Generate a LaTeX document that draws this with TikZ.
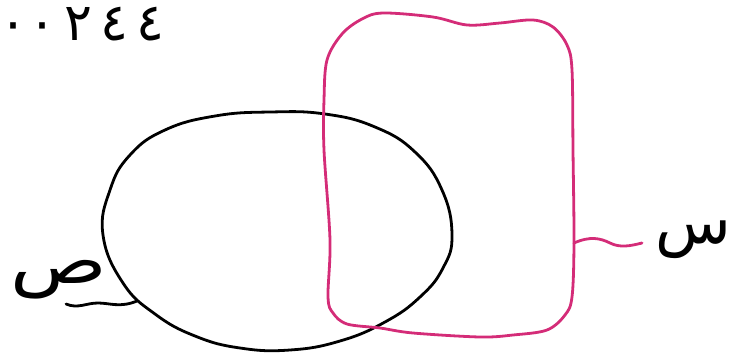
\documentclass[tikz,border=0pt]{standalone}
\usepackage{fontspec}
\usepackage{graphicx}
\newfontfamily\arabicfont[Script=Arabic]{DejaVu Sans}
\TeXXeTstate=1
\definecolor{setpink}{RGB}{212,44,120}
\newcommand\digitbox[2][36pt]{\makebox[#1]{#2}}
\begin{document}
\begin{tikzpicture}[x=1pt,y=-1pt,
  setline/.style={line width=2.8pt,line cap=round,line join=round},
  setlabel/.style={inner sep=0pt,font=\arabicfont\fontsize{62}{62}\selectfont}]
  \useasboundingbox (0,0) rectangle (731,354);
  \node[anchor=base west,inner sep=0pt,text height=30pt,text depth=0pt,
    font=\arabicfont\fontsize{52}{52}\selectfont] (number) at (2,40)
    {\digitbox[22pt]{٠}\digitbox{٠}\digitbox{٢}\digitbox{٤}\digitbox{٤}};
  % the set sad
  \draw[setline] plot[smooth cycle,tension=0.75] coordinates {(103,235) (110,190) (130,155) (165,130)
    (215,116) (270,112) (325,114) (375,127) (415,152) (442,190) (452,235) (443,268) (420,297)
    (385,322) (340,341) (290,350) (240,348) (195,336) (155,314) (123,283)};
  % the set sin
  \draw[setline,setpink] plot[smooth cycle,tension=0.55] coordinates {(327,60) (342,34) (362,19)
    (383,13) (433,17) (467,25) (500,23) (533,20) (553,27) (567,45) (572,70) (573,150) (574,243)
    (572,297) (565,315) (547,330) (513,335) (480,337) (413,333) (380,328) (347,324) (333,313)
    (328,297) (330,240) (324,150) (324,100)};
  \coordinate (sadpt) at (137,301);
  \coordinate (sadend) at (66,304);
  \coordinate (sinpt) at (574,243);
  \coordinate (sinend) at (642,243);
  \node[setlabel,anchor=south east,font=\arabicfont\fontsize{64}{64}\selectfont] (sad) at (107,299)
    {\scalebox{1.25}[1]{\beginR ص\endR}};
  \node[setlabel,anchor=east] (sin) at (731,240) {\beginR س\endR};
  \draw[setline] (sadpt) .. controls (120,308) and (110,303) .. (98,303)
    .. controls (86,303) and (78,309) .. (sadend);
  \draw[setline,setpink] (sinpt) .. controls (590,236) and (600,238) .. (610,243)
    .. controls (620,248) and (630,246) .. (sinend);
\end{tikzpicture}
\end{document}
